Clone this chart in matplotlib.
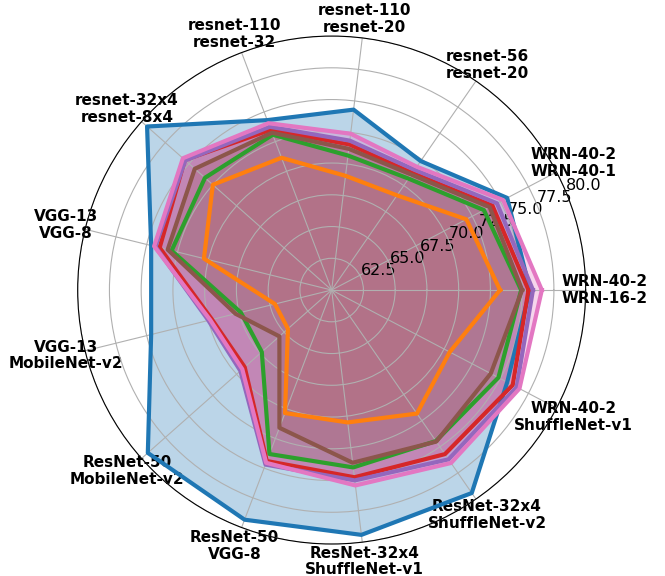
import numpy as np
import matplotlib.pyplot as plt

# teacher / student pairs, one per spoke
categories = ['WRN-40-2\nWRN-16-2', 'WRN-40-2\nWRN-40-1', 'resnet-56\nresnet-20',
              'resnet-110\nresnet-20', 'resnet-110\nresnet-32', 'resnet-32x4\nresnet-8x4',
              'VGG-13\nVGG-8', 'VGG-13\nMobileNet-v2', 'ResNet-50\nMobileNet-v2',
              'ResNet-50\nVGG-8', 'ResNet-32x4\nShuffleNet-v1', 'ResNet-32x4\nShuffleNet-v2',
              'WRN-40-2\nShuffleNet-v1']

# top-1 accuracy (%)
teacher = [75.61, 75.61, 72.34, 74.31, 74.31, 79.42, 74.64, 74.64, 79.34, 79.34, 79.42, 79.42, 75.61]
student = [73.26, 71.98, 69.06, 69.06, 71.14, 72.50, 70.36, 64.60, 64.60, 70.36, 70.50, 71.82, 70.50]
kd      = [74.92, 73.54, 70.66, 70.67, 73.08, 73.33, 72.98, 67.37, 67.35, 73.81, 74.07, 74.45, 74.83]
crd     = [75.50, 74.30, 71.20, 71.55, 73.50, 75.45, 73.95, 69.70, 69.15, 74.40, 74.85, 75.70, 76.10]
crd_kd  = [75.85, 74.70, 71.50, 71.85, 73.75, 75.40, 74.30, 70.00, 69.60, 74.70, 75.10, 76.20, 76.45]
other   = [75.00, 74.05, 71.05, 71.20, 73.25, 74.40, 73.30, 67.80, 65.50, 71.60, 73.70, 74.50, 74.15]
ours    = [76.55, 75.25, 71.80, 72.40, 74.05, 75.65, 74.40, 69.85, 69.40, 74.55, 75.50, 76.55, 76.70]

series = [teacher, student, kd, crd, crd_kd, other, ours]
colors = ['tab:blue', 'tab:orange', 'tab:green', 'tab:red', 'tab:purple', 'tab:brown', 'tab:pink']

r_ticks = [62.5, 65.0, 67.5, 70.0, 72.5, 75.0, 77.5, 80.0]

n = len(categories)
angles = np.linspace(0, 2 * np.pi, n, endpoint=False).tolist()
angles += angles[:1]

fig = plt.figure(figsize=(6.65, 5.76), dpi=100)
ax = fig.add_axes([0.1168, 0.0555, 0.7639, 0.8819], polar=True)

for vals, c in zip(series, colors):
    v = vals + vals[:1]
    ax.plot(angles, v, color=c, linewidth=3)
    ax.fill(angles, v, color=c, alpha=0.3)

ax.set_xticks(angles[:-1])
ax.set_xticklabels(categories, fontsize=11, fontweight='bold', linespacing=1.15)
ax.set_ylim(60, 80)
ax.set_yticks(r_ticks)
ax.set_yticklabels(['%.1f' % t for t in r_ticks], fontsize=11.5)

fig.savefig('out.png', dpi=100)
